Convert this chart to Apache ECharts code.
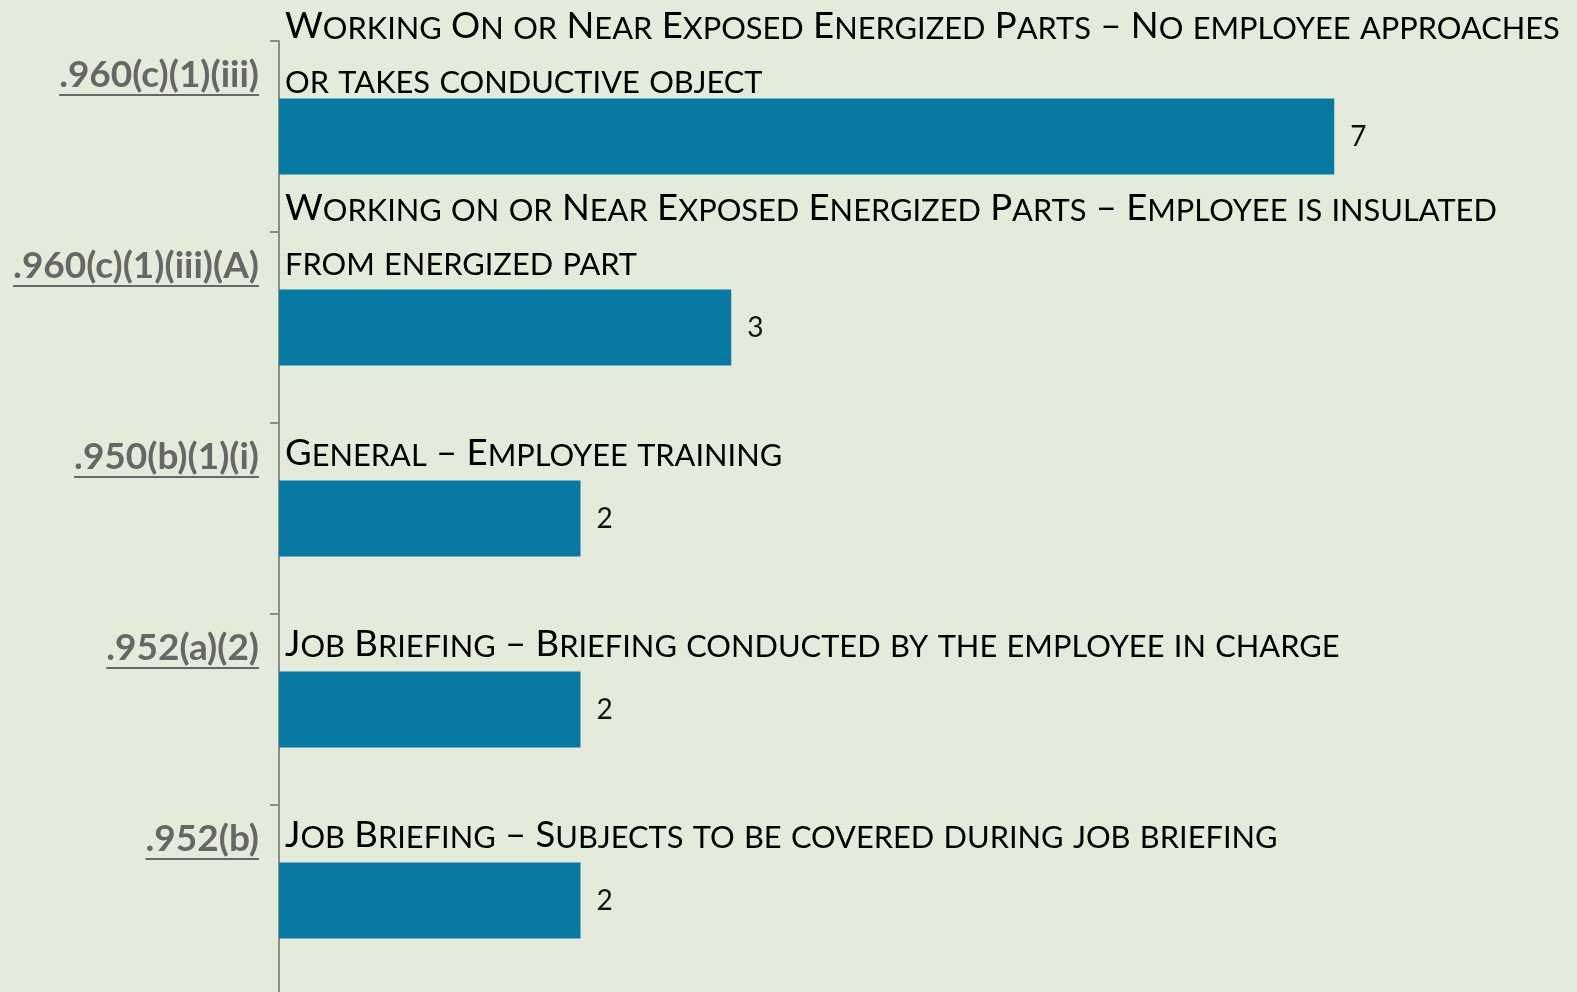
<!DOCTYPE html>
<html>
<head>
<meta charset="utf-8">
<title>Citations by standard</title>
<script src="https://cdn.jsdelivr.net/npm/echarts@6/dist/echarts.min.js"></script>
<style>
  html, body { margin: 0; padding: 0; background: #e5ebda; }
  #chart { width: 1577px; height: 992px; }
</style>
</head>
<body>
<div id="chart"></div>
<script>
// chart data
const codes = ['.960(c)(1)(iii)', '.960(c)(1)(iii)(A)', '.950(b)(1)(i)', '.952(a)(2)', '.952(b)']
const titles = [
  'Working On or Near Exposed Energized Parts – No employee approaches\nor takes conductive object',
  'Working on or Near Exposed Energized Parts – Employee is insulated\nfrom energized part',
  'General – Employee training',
  'Job Briefing – Briefing conducted by the employee in charge',
  'Job Briefing – Subjects to be covered during job briefing'
]
const counts = [7, 3, 2, 2, 2]

const FONT = 'Lato'
const BAR_COLOR = '#0779a3'
const CODE_COLOR = '#676767'
const AXIS_COLOR = '#8c8c8c'
const CODE_SIZE = 37
// small nudge of each title relative to its bar top
const titleShift = [0, -9, -9, -9, -9]

// PowerPoint-like small caps: lowercase letters become smaller capitals
function smallCaps(text) {
  return text.split('\n').map(line => {
    let out = ''
    let run = ''
    let kind = null
    const flush = () => {
      if (run) out += '{' + kind + '|' + (kind === 's' ? run.toUpperCase() : run) + '}'
      run = ''
    }
    for (const ch of line) {
      const k = ch !== ch.toUpperCase() ? 's' : 'b'
      if (k !== kind) flush()
      kind = k
      run += ch
    }
    flush()
    return out
  }).join('\n')
}

// underline width for each code label
const ctx = document.createElement('canvas').getContext('2d')
ctx.font = 'normal bold ' + CODE_SIZE + 'px ' + FONT
const codeRich = {
  c: { fontFamily: FONT, fontWeight: 'bold', fontSize: CODE_SIZE, color: CODE_COLOR, lineHeight: 33 }
}
codes.forEach((c, i) => {
  codeRich['u' + i] = {
    width: ctx.measureText(c).width,
    height: 2,
    lineHeight: 6,
    fontSize: 2,
    backgroundColor: CODE_COLOR
  }
})

const chart = echarts.init(document.getElementById('chart'))
chart.setOption({
  backgroundColor: '#e5ebda',
  animation: false,
  grid: { left: 279, right: 92, top: 41, height: 955, containLabel: false, outerBoundsMode: 'none' },
  xAxis: { type: 'value', min: 0, max: 8, show: false },
  yAxis: {
    type: 'category',
    inverse: true,
    data: codes,
    axisLine: { show: true, lineStyle: { color: AXIS_COLOR, width: 2 } },
    axisTick: { show: true, length: 9, lineStyle: { color: AXIS_COLOR, width: 2 } },
    splitLine: { show: false },
    axisLabel: {
      interval: 0,
      margin: 20,
      padding: [0, 0, 116, 0],
      formatter: (value, index) => '{c|' + value + '}\n{u' + index + '| }',
      rich: codeRich
    }
  },
  series: [
    {
      type: 'bar',
      data: counts,
      barWidth: 76,
      barGap: '-100%',
      itemStyle: { color: BAR_COLOR },
      emphasis: { disabled: true },
      label: {
        show: true,
        position: 'right',
        distance: 16,
        fontFamily: FONT,
        fontSize: 28,
        color: '#111'
      }
    },
    {
      type: 'bar',
      data: counts.map((v, i) => ({ value: v, label: { position: [6, titleShift[i]] } })),
      barWidth: 76,
      barGap: '-100%',
      silent: true,
      itemStyle: { color: 'rgba(0,0,0,0)' },
      emphasis: { disabled: true },
      label: {
        show: true,
        align: 'left',
        verticalAlign: 'bottom',
        formatter: p => smallCaps(titles[p.dataIndex]),
        rich: {
          b: { fontFamily: FONT, fontSize: 36.5, color: '#000', lineHeight: 54, verticalAlign: 'bottom' },
          s: { fontFamily: FONT, fontSize: 30.8, color: '#000', lineHeight: 49.5, verticalAlign: 'bottom' }
        }
      }
    }
  ]
})
</script>
</body>
</html>
